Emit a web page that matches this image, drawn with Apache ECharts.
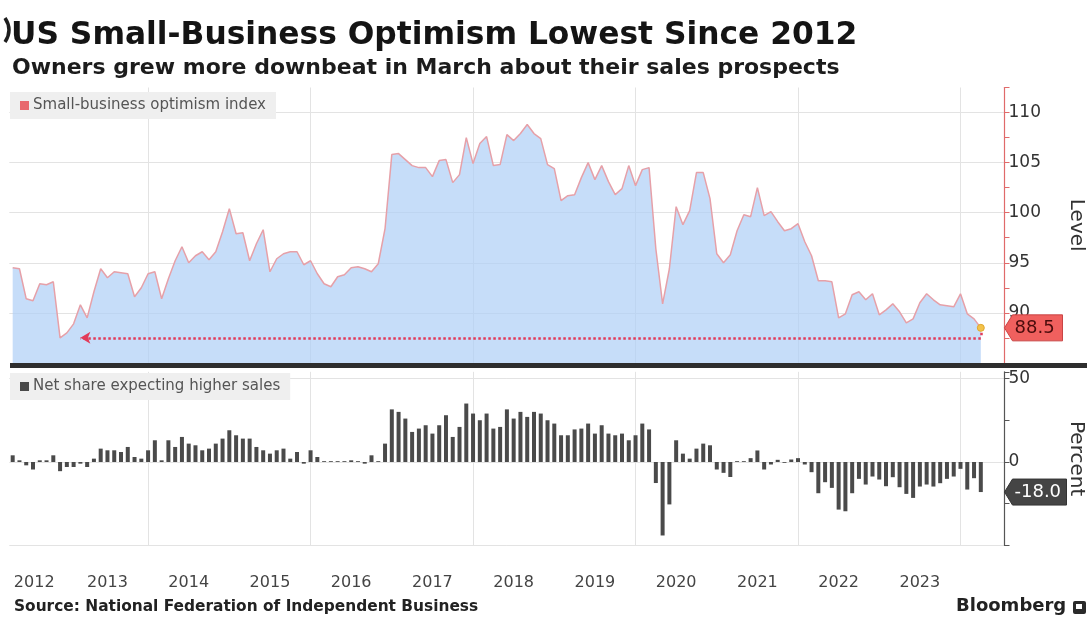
<!DOCTYPE html>
<html>
<head>
<meta charset="utf-8">
<script src="https://cdn.jsdelivr.net/npm/echarts@6/dist/echarts.min.js"></script>
<style>
  html, body { margin: 0; padding: 0; background: #fff; overflow: hidden; }
  #chart { width: 1087px; height: 622px; }
</style>
</head>
<body>
<div id="chart"></div>
<script>
// Monthly observations start in April 2012; the time axis runs on to June 2024.
const startYear = 2012;
const startMonth = 4;
const axisMonths = 147;

// NFIB small-business optimism index, Apr 2012 - Mar 2024
const optimism = [
  94.5, 94.4, 91.4, 91.2, 92.9, 92.8, 93.1, 87.5, 88.0,
  88.9, 90.8, 89.5, 92.1, 94.4, 93.5, 94.1, 94.0, 93.9, 91.6, 92.5, 93.9,
  94.1, 91.4, 93.4, 95.2, 96.6, 95.0, 95.7, 96.1, 95.3, 96.1, 98.1, 100.4,
  97.9, 98.0, 95.2, 96.9, 98.3, 94.1, 95.4, 95.9, 96.1, 96.1, 94.8, 95.2,
  93.9, 92.9, 92.6, 93.6, 93.8, 94.5, 94.6, 94.4, 94.1, 94.9, 98.4, 105.8,
  105.9, 105.3, 104.7, 104.5, 104.5, 103.6, 105.2, 105.3, 103.0, 103.8, 107.5, 104.9,
  106.9, 107.6, 104.7, 104.8, 107.8, 107.2, 107.9, 108.8, 107.9, 107.4, 104.8, 104.4,
  101.2, 101.7, 101.8, 103.5, 105.0, 103.3, 104.7, 103.1, 101.8, 102.4, 104.7, 102.7,
  104.3, 104.5, 96.4, 90.9, 94.4, 100.6, 98.8, 100.2, 104.0, 104.0, 101.4, 95.9,
  95.0, 95.8, 98.2, 99.8, 99.6, 102.5, 99.7, 100.1, 99.1, 98.2, 98.4, 98.9,
  97.1, 95.7, 93.2, 93.2, 93.1, 89.5, 89.9, 91.8, 92.1, 91.3, 91.9, 89.8,
  90.3, 90.9, 90.1, 89.0, 89.4, 91.0, 91.9, 91.3, 90.8, 90.7, 90.6, 91.9,
  89.9, 89.4, 88.5
];

// Net percent of owners expecting higher real sales, Apr 2012 - Mar 2024
const salesOutlook = [
  4, 1, -2, -4.5, 1, 1, 4, -5.5, -3,
  -3, -1, -3, 2, 8, 7, 7, 6, 9, 3, 2, 7,
  13, 1, 13, 9, 15, 11, 10, 7, 8, 11, 14, 19,
  16, 14, 14, 9, 7, 5, 7, 8, 2, 6, -1, 7,
  3, 0.5, 0.5, 0.5, 0.5, 1, 0.5, -1, 4, 0.5, 11, 31.5,
  30, 26, 18, 20, 22, 17, 22, 28, 15, 21, 35, 29,
  25, 29, 20, 21, 31.5, 26, 30, 27, 30, 29, 25, 23,
  16, 16, 19.5, 20, 23, 17, 22, 17, 16, 17, 13, 16,
  23, 19.5, -12.6, -44, -25.4, 13, 5, 2, 8, 11, 10, -4.5,
  -6.5, -9, 0.5, 0.5, 2.3, 6.9, -4.5, -1.5, 1.3, -0.5, 1.5, 2.3,
  -1.5, -6.1, -18.7, -12.1, -15.5, -28.5, -29.5, -18.7, -10.1, -13.5, -8.7, -10.5,
  -14.5, -9.1, -15.1, -19.1, -21.5, -14.7, -13.5, -14.7, -12.7, -10.1, -8.7, -4.1,
  -16.5, -9.7, -18
];

const yearLabels = ['2012', '2013', '2014', '2015', '2016', '2017', '2018', '2019', '2020', '2021', '2022', '2023'];
const levelTicks = [90, 95, 100, 105, 110];
const percentTicks = [0, 50];

const optimismName = 'Small-business optimism index';
const salesName = 'Net share expecting higher sales';

// month categories "YYYY-MM"
const months = [];
for (let k = 0; k < axisMonths; k++) {
  const m0 = startMonth - 1 + k;
  months.push((startYear + Math.floor(m0 / 12)) + '-' + String(m0 % 12 + 1).padStart(2, '0'));
}

const lastIdx = optimism.length - 1;
const lastLevel = optimism[lastIdx];
const lastSales = salesOutlook[salesOutlook.length - 1];

// 2012 trough that the latest reading is compared against
const early = optimism.slice(0, 12);
const lowLevel = Math.min(...early);
const lowIdx = early.indexOf(lowLevel);

const FONT = 'DejaVu Sans';
const gridLeft = 9.3;
const gridRight = 82.5;
const gridColor = '#e3e3e3';

// vertical grid lines at each turn of an even year
const isGridMonth = (i, v) => v.endsWith('-12') && (+v.slice(0, 4)) % 2 === 1;
// year labels sit mid-year
const isLabelMonth = (i, v) => v.endsWith('-06') && yearLabels.includes(v.slice(0, 4));

function xAxisFor(gridIndex, withLabels) {
  return {
    type: 'category',
    gridIndex: gridIndex,
    data: months,
    boundaryGap: true,
    axisLine: { show: false },
    axisTick: { show: false },
    axisLabel: withLabels ? {
      show: true,
      interval: isLabelMonth,
      margin: 29,
      color: '#444',
      fontSize: 16,
      fontFamily: FONT,
      formatter: v => v.startsWith(yearLabels[0]) ? '{first|' + v.slice(0, 4) + '}' : v.slice(0, 4),
      rich: { first: { padding: [0, 0, 0, 16], color: '#444', fontSize: 16, fontFamily: FONT } }
    } : { show: false },
    splitLine: {
      show: true,
      alignWithLabel: true,
      interval: isGridMonth,
      lineStyle: { color: gridColor, width: 1 }
    }
  };
}

const chart = echarts.init(document.getElementById('chart'), null, { renderer: 'canvas' });

chart.setOption({
  animation: false,
  backgroundColor: '#ffffff',
  textStyle: { fontFamily: FONT },
  title: [
    {
      text: 'US Small-Business Optimism Lowest Since 2012',
      left: 11, top: 20, padding: 0,
      textStyle: { fontFamily: FONT, fontWeight: 'bold', fontSize: 31.3, color: '#141414' }
    },
    {
      text: 'Owners grew more downbeat in March about their sales prospects',
      left: 12, top: 57, padding: 0,
      textStyle: { fontFamily: FONT, fontWeight: 'bold', fontSize: 22, color: '#1c1c1c' }
    },
    {
      text: 'Source: National Federation of Independent Business',
      left: 14, top: 599, padding: 0,
      textStyle: { fontFamily: FONT, fontWeight: 'bold', fontSize: 15.4, color: '#222' }
    },
    {
      text: 'Bloomberg',
      left: 956, top: 597, padding: 0,
      textStyle: { fontFamily: FONT, fontWeight: 'bold', fontSize: 18, color: '#222' }
    }
  ],
  legend: [
    {
      data: [{ name: optimismName, itemStyle: { color: '#e8696e' } }],
      left: 10, top: 92,
      padding: [6, 10, 6, 10],
      backgroundColor: '#efefef',
      icon: 'rect', itemWidth: 9, itemHeight: 9, itemGap: 0,
      selectedMode: false,
      textStyle: { fontFamily: FONT, fontSize: 15, color: '#555', padding: [0, 0, 0, -1] }
    },
    {
      data: [{ name: salesName, itemStyle: { color: '#4a4a4a' } }],
      left: 10, top: 373,
      padding: [6, 10, 6, 10],
      backgroundColor: '#efefef',
      icon: 'rect', itemWidth: 9, itemHeight: 9, itemGap: 0,
      selectedMode: false,
      textStyle: { fontFamily: FONT, fontSize: 15, color: '#555', padding: [0, 0, 0, -1] }
    }
  ],
  grid: [
    { left: gridLeft, right: gridRight, top: 87.5, height: 275.4, containLabel: false, outerBoundsMode: 'none' },
    { left: gridLeft, right: gridRight, top: 371.8, height: 173.7, containLabel: false, outerBoundsMode: 'none' }
  ],
  xAxis: [xAxisFor(0, false), xAxisFor(1, true)],
  yAxis: [
    {
      type: 'value', gridIndex: 0, position: 'right',
      min: 85, max: 112.5, interval: 5,
      axisLine: { show: true, lineStyle: { color: '#e06a6a', width: 1.2 } },
      axisTick: { show: true, length: 5, lineStyle: { color: '#e06a6a' } },
      minorTick: { show: true, splitNumber: 2, length: 5, lineStyle: { color: '#e06a6a' } },
      splitLine: { show: true, showMinLine: false, showMaxLine: false, lineStyle: { color: gridColor } },
      axisLabel: {
        margin: 4, color: '#333', fontSize: 17, fontFamily: FONT,
        formatter: v => levelTicks.includes(v) ? String(v) : ''
      },
      name: 'Level', nameLocation: 'middle', nameRotate: -90, nameGap: 62,
      nameTextStyle: { fontSize: 20, color: '#333', fontFamily: FONT }
    },
    {
      type: 'value', gridIndex: 1, position: 'right',
      min: -50, max: 54, interval: 50,
      axisLine: { show: true, lineStyle: { color: '#555', width: 1.2 } },
      axisTick: { show: true, length: 5, lineStyle: { color: '#555' } },
      minorTick: { show: true, splitNumber: 2, length: 5, lineStyle: { color: '#555' } },
      splitLine: { show: true, showMaxLine: false, lineStyle: { color: gridColor } },
      axisLabel: {
        margin: 4, color: '#333', fontSize: 17, fontFamily: FONT,
        formatter: v => percentTicks.includes(v) ? String(v) : ''
      },
      name: 'Percent', nameLocation: 'middle', nameRotate: -90, nameGap: 62,
      nameTextStyle: { fontSize: 20, color: '#333', fontFamily: FONT }
    }
  ],
  series: [
    {
      name: optimismName,
      type: 'line',
      xAxisIndex: 0, yAxisIndex: 0,
      data: optimism,
      symbol: 'none',
      lineStyle: { color: '#e6a0a8', width: 1.5 },
      itemStyle: { color: '#e8696e' },
      areaStyle: { color: 'rgba(176, 208, 246, 0.72)', opacity: 1, origin: 'start' },
      z: 3,
      markLine: {
        silent: true,
        symbol: ['none', 'none'],
        label: { show: false },
        lineStyle: { color: '#e23b5a', type: 'dotted', width: 2.5 },
        data: [
          [
            { coord: [months[lastIdx], lastLevel], symbol: 'none' },
            { coord: [months[lastIdx], lowLevel], symbol: 'none' }
          ],
          [
            { coord: [months[lastIdx], lowLevel], symbol: 'none' },
            { coord: [months[lowIdx + 3], lowLevel], symbol: 'arrow', symbolSize: [9, 10] }
          ]
        ]
      },
      markPoint: {
        silent: true,
        symbol: 'circle',
        symbolSize: 7,
        label: { show: false },
        itemStyle: { color: '#f3c24a', borderColor: '#e0a830', borderWidth: 1 },
        data: [{ coord: [months[lastIdx], lastLevel] }]
      }
    },
    {
      name: salesName,
      type: 'bar',
      xAxisIndex: 1, yAxisIndex: 1,
      data: salesOutlook,
      barWidth: 4,
      itemStyle: { color: '#4a4a4a' }
    }
  ]
});

// Last-value tags on the right-hand axes and fixed decorations
const axisX = 1087 - gridRight;
function valueTag(y, text, fill, stroke, textColor, w) {
  const h = 26;
  return [
    {
      type: 'polygon',
      z: 100,
      shape: { points: [[axisX, y], [axisX + 8, y - h / 2], [axisX + w, y - h / 2], [axisX + w, y + h / 2], [axisX + 8, y + h / 2]] },
      style: { fill: fill, stroke: stroke, lineWidth: 1 }
    },
    {
      type: 'text',
      z: 101,
      x: axisX + 10, y: y,
      style: { text: text, fill: textColor, font: '18px "DejaVu Sans"', textVerticalAlign: 'middle', textAlign: 'left' }
    }
  ];
}

const yLast = chart.convertToPixel({ yAxisIndex: 0 }, lastLevel);
const ySales = chart.convertToPixel({ yAxisIndex: 1 }, lastSales);

chart.setOption({
  graphic: [
    // panel divider
    { type: 'rect', z: 50, shape: { x: 10, y: 363, width: 1077, height: 5 }, style: { fill: '#2e2e2e' } },
    ...valueTag(yLast, lastLevel.toFixed(1), '#f0605e', '#c94545', '#4a0c0c', 58),
    ...valueTag(ySales, lastSales.toFixed(1), '#454545', '#333', '#ffffff', 62),
    // Bloomberg mark
    { type: 'rect', z: 50, shape: { x: 1073, y: 601, width: 13, height: 13, r: 2 }, style: { fill: '#2a2a2a' } },
    { type: 'rect', z: 51, shape: { x: 1076, y: 604, width: 6, height: 5 }, style: { fill: '#ffffff' } },
    // edge mark at top left
    { type: 'bezierCurve', z: 50, shape: { x1: 5, y1: 18, x2: 5, y2: 42, cpx1: 13, cpy1: 30 }, style: { fill: 'none', stroke: '#1e1e1e', lineWidth: 3.5 } }
  ]
});
</script>
</body>
</html>
